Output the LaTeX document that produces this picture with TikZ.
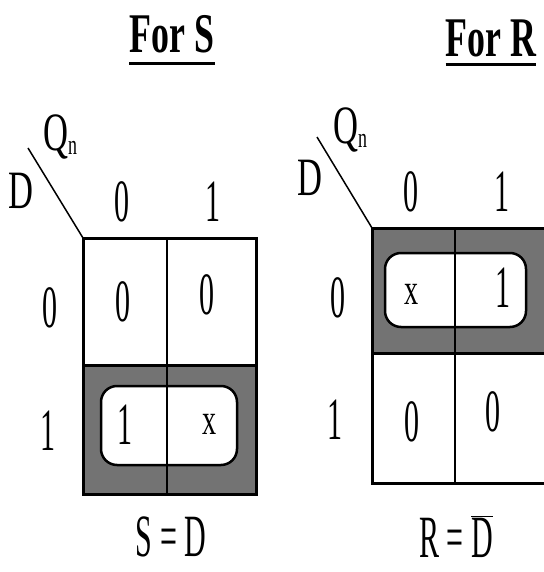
\documentclass[tikz,border=0pt]{standalone}
\usepackage{fontspec}
\setmainfont{Liberation Serif}
\newcommand{\kmap}[1]{\scalebox{0.5}[1]{#1}}
\newcommand{\khead}[1]{\scalebox{0.64}[1]{#1}}
\definecolor{loopgray}{RGB}{115,115,115}

\begin{document}
\begin{tikzpicture}[x=1pt,y=-1pt,
	val/.style={font=\fontsize{60}{60}\selectfont, inner sep=0pt},
	xval/.style={font=\fontsize{44}{44}\selectfont, inner sep=0pt},
	lbl/.style={font=\fontsize{54}{54}\selectfont, inner sep=0pt},
	head/.style={font=\bfseries\fontsize{56}{56}\selectfont, inner sep=0pt},
	eqn/.style={font=\fontsize{60}{60}\selectfont, inner sep=0pt, anchor=base}]
	\useasboundingbox (0,0) rectangle (543,572);
	% map for S
	\node[head] (sTitle) at (172,34) {\khead{For S}};
	\draw[line width=3pt] ([yshift=-10pt]sTitle.south west) -- ([yshift=-10pt]sTitle.south east);
	\fill[loopgray] (83,365) rectangle (256,494);
	\draw[fill=white,line width=2.5pt,rounded corners=16pt] (101,386) rectangle (237,465);
	\draw[line width=2pt] (167,238) -- (167,494);
	\draw[line width=3pt] (83,238) rectangle (256,494);
	\draw[line width=3pt] (83,365) -- (256,365);
	\coordinate (sCorner) at (83,238);
	\coordinate (sSlash) at (28,148);
	\draw[line width=1.5pt] (sSlash) -- (sCorner);
	\node[lbl,anchor=base west] (sQ) at (43,150) {\khead{Q\raisebox{-5pt}{\fontsize{28}{28}\selectfont n}}};
	\node[lbl] (sD) at (21,191) {\khead{D}};
	\node[val] (sC0) at (122,202) {\kmap{0}};
	\node[val] (sC1) at (213,202) {\kmap{1}};
	\node[val] (sR0) at (50,308) {\kmap{0}};
	\node[val] (sR1) at (48,431) {\kmap{1}};
	\node[val] (s00) at (123,302) {\kmap{0}};
	\node[val] (s01) at (207,295) {\kmap{0}};
	\node[val] (s10) at (125,425) {\kmap{1}};
	\node[xval] (s11) at (210,424) {\khead{x}};
	\node[eqn] (sEq) at (171,556) {\kmap{S = D}};
	% map for R
	\node[head] (rTitle) at (491,38) {\khead{For R}};
	\draw[line width=3pt] ([yshift=-8pt]rTitle.south west) -- ([yshift=-8pt]rTitle.south east);
	\fill[loopgray] (372,228) rectangle (548,353);
	\draw[fill=white,line width=2.5pt,rounded corners=16pt] (385,253) rectangle (526,327);
	\draw[line width=2pt] (455,228) -- (455,483);
	\draw[line width=3pt] (372,228) rectangle (548,483);
	\draw[line width=3pt] (372,353) -- (548,353);
	\coordinate (rCorner) at (372,228);
	\coordinate (rSlash) at (317,137);
	\draw[line width=1.5pt] (rSlash) -- (rCorner);
	\node[lbl,anchor=base west] (rQ) at (333,143) {\khead{Q\raisebox{-5pt}{\fontsize{28}{28}\selectfont n}}};
	\node[lbl] (rD) at (310,178) {\khead{D}};
	\node[val] (rC0) at (411,192) {\kmap{0}};
	\node[val] (rC1) at (502,192) {\kmap{1}};
	\node[val] (rR0) at (338,298) {\kmap{0}};
	\node[val] (rR1) at (335,420) {\kmap{1}};
	\node[xval] (r00) at (412,294) {\khead{x}};
	\node[val] (r01) at (503,288) {\kmap{1}};
	\node[val] (r10) at (412,422) {\kmap{0}};
	\node[val] (r11) at (493,412) {\kmap{0}};
	\node[eqn] (rEq) at (456,557) {\kmap{R = \(\overline{\mbox{D}}\)}};
\end{tikzpicture}
\end{document}
